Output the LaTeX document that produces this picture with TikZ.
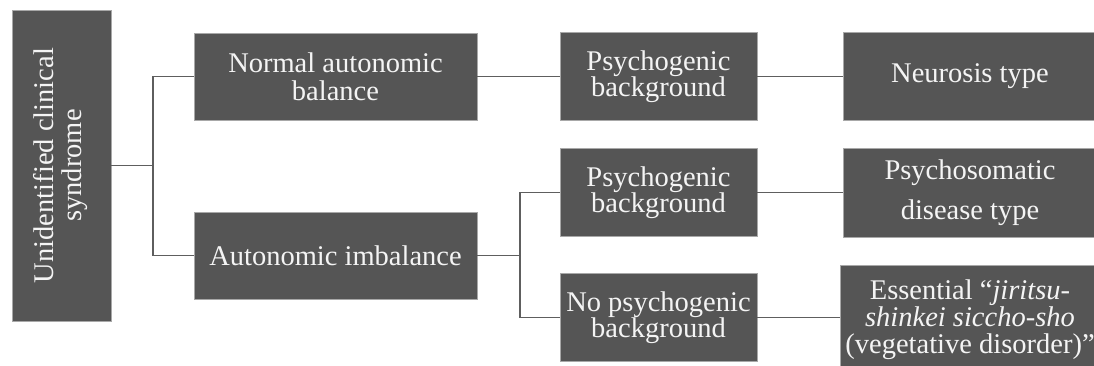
\documentclass[tikz,border=0pt]{standalone}
\usepackage{fontspec}
\setmainfont{Liberation Serif}
\newfontfamily\boxfont{Liberation Serif}
\definecolor{boxfill}{HTML}{555555}
\definecolor{boxedge}{HTML}{A8A8A8}
\definecolor{linkc}{HTML}{5E5E5E}
\definecolor{txt}{HTML}{F4F4F4}
\begin{document}
\begin{tikzpicture}[x=0.5pt,y=-0.5pt,
  box/.style={rectangle, fill=boxfill, draw=boxedge, line width=0.4pt, text=txt,
    align=center, inner sep=0pt, font=\boxfont\fontsize{14.25}{14}\selectfont},
  link/.style={draw=linkc, line width=0.8pt}]
\clip (0,0) rectangle (1094,365);
\fill[white] (0,0) rectangle (1094,365);
% nodes
\node[box, minimum width=49.5pt, minimum height=155.5pt] (L) at (61.5,165.5)
  {\rotatebox{90}{\begin{tabular}{@{}c@{}}Unidentified clinical\\syndrome\end{tabular}}};
\node[box, minimum width=141.5pt, minimum height=43.5pt] (NAB) at (335.5,76.5)
  {Normal autonomic\\balance};
\node[box, minimum width=141.5pt, minimum height=43.5pt] (AI) at (335.5,255.5)
  {Autonomic imbalance};
\node[box, minimum width=98.5pt, minimum height=44pt, font=\boxfont\fontsize{14.25}{13.3}\selectfont] (PB1) at (658.5,76.5)
  {Psychogenic\\background};
\node[box, minimum width=98.5pt, minimum height=44pt, font=\boxfont\fontsize{14.25}{13.3}\selectfont] (PB2) at (658.5,192.5)
  {Psychogenic\\background};
\node[box, minimum width=98.5pt, minimum height=44pt, font=\boxfont\fontsize{14.25}{13.3}\selectfont] (NPB) at (658.5,317.5)
  {No psychogenic\\background};
\node[box, minimum width=127pt, minimum height=44pt] (NT) at (970,76.5)
  {Neurosis type};
\node[box, minimum width=127pt, minimum height=44.5pt, font=\boxfont\fontsize{14.25}{20}\selectfont] (PS) at (970,192.5)
  {Psychosomatic\\disease type};
\node[box, minimum width=130pt, minimum height=54.5pt, font=\boxfont\fontsize{14.25}{13.5}\selectfont] (ES) at (970,319.5)
  {Essential “\textit{jiritsu-}\\\textit{shinkei siccho-sho}\\(vegetative disorder)”};
% junctions
\coordinate (j1) at (153,165.5);
\coordinate (j2) at (520,255.5);
% connectors
\draw[link] (L.east) -- (j1);
\draw[link] (NAB.west) -| (j1) |- (AI.west);
\draw[link] (AI.east) -- (j2);
\draw[link] (PB2.west) -| (j2) |- (NPB.west);
\draw[link] (NAB.east) -- (PB1.west);
\draw[link] (PB1.east) -- (NT.west);
\draw[link] (PB2.east) -- (PS.west);
\draw[link] (NPB.east) -- (NPB.east -| ES.west);
\end{tikzpicture}
\end{document}
